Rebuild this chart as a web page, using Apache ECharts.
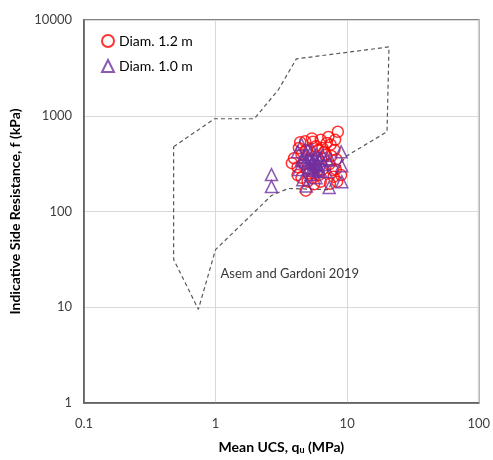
<!DOCTYPE html>
<html>
<head>
<meta charset="utf-8">
<script src="https://cdn.jsdelivr.net/npm/echarts@6/dist/echarts.min.js"></script>
<style>
  html, body { margin: 0; padding: 0; background: #fff; }
  #chart { width: 493px; height: 460px; }
</style>
</head>
<body>
<div id="chart"></div>
<script>
// Diam. 1.2 m  [UCS MPa, f kPa]
var diam12 = [
  [4.4, 530], [4.8, 540], [5.5, 536], [6.3, 560], [7.2, 600], [8.5, 680],
  [7.5, 500], [6.5, 460], [5.8, 480], [3.95, 360], [3.8, 320], [4.2, 290],
  [4.5, 395], [5.3, 350], [6.0, 360], [6.9, 390], [8.0, 440], [8.3, 350],
  [8.2, 275], [7.9, 230], [8.4, 205], [7.4, 195], [6.3, 205], [5.5, 225],
  [4.85, 165], [5.0, 205], [4.5, 225], [4.2, 240], [4.7, 310], [5.2, 275],
  [5.8, 285], [6.5, 275], [7.3, 310], [9.0, 240], [4.9, 440], [6.0, 440],
  [5.4, 580], [7.0, 520], [5.6, 192], [8.1, 560], [6.7, 420], [7.6, 380],
  [7.8, 270], [5.1, 250], [6.1, 240], [4.3, 460]
]

// Diam. 1.0 m
var diam10 = [
  [2.66, 243], [2.66, 182], [4.5, 500], [4.3, 275], [5.4, 440], [4.9, 395],
  [5.3, 350], [5.8, 395], [6.3, 360], [4.8, 330], [5.2, 290], [5.6, 310],
  [6.0, 275], [6.7, 310], [7.0, 355], [7.5, 345], [9.0, 420], [9.1, 300],
  [9.1, 205], [7.3, 178], [4.9, 185], [4.5, 345], [5.0, 440], [5.9, 320],
  [6.3, 262], [5.3, 243], [4.2, 420], [6.9, 262], [5.8, 225], [4.6, 215],
  [5.1, 370], [5.5, 330], [5.7, 360], [6.1, 340], [5.4, 280], [6.5, 385],
  [4.7, 370], [5.0, 320], [6.0, 300], [5.6, 270]
]

// Asem and Gardoni 2019 envelope (closed)
var envelope = [
  [0.48, 475], [0.98, 930], [1.97, 930], [3.0, 1866], [4.11, 3925],
  [20.8, 5236], [20.1, 681], [9.6, 370], [7.18, 169], [3.57, 174],
  [2.66, 147], [1.0, 40], [0.74, 9.5], [0.48, 31.6], [0.48, 475]
]

var envelopeLabel = [[1.09, 22.6]]

var myChart = echarts.init(document.getElementById('chart'))

var labelFont = 'Lato, "Open Sans", sans-serif'

var option = {
  animation: false,
  textStyle: { fontFamily: labelFont },
  grid: {
    left: 82, right: 14, top: 20, bottom: 55,
    show: true, borderColor: '#595959', borderWidth: 1.5
  },
  legend: {
    orient: 'vertical',
    left: 96, top: 29,
    itemWidth: 12, itemHeight: 12, itemGap: 11,
    textStyle: { fontSize: 14, color: '#000', fontFamily: labelFont },
    data: ['Diam. 1.2 m', 'Diam. 1.0 m']
  },
  xAxis: {
    type: 'log', logBase: 10, min: 0.1, max: 100,
    name: 'Mean UCS, q{sub|u} (MPa)',
    nameLocation: 'middle', nameGap: 37,
    nameTextStyle: {
      fontSize: 14, fontWeight: 'bold', color: '#000',
      rich: { sub: { fontSize: 9, fontWeight: 'bold', verticalAlign: 'bottom', padding: [6, 0, 0, 0] } }
    },
    axisLine: { lineStyle: { color: '#595959', width: 1.5 } },
    axisTick: { show: false },
    minorTick: { show: false },
    axisLabel: { fontSize: 13, color: '#404040', margin: 14, formatter: function (v) { return String(v) } },
    splitLine: { lineStyle: { color: '#d9d9d9', width: 1 } }
  },
  yAxis: {
    type: 'log', logBase: 10, min: 1, max: 10000,
    name: 'Indicative Side Resistance, f (kPa)',
    nameLocation: 'middle', nameGap: 62,
    nameTextStyle: { fontSize: 14, fontWeight: 'bold', color: '#000' },
    axisLine: { lineStyle: { color: '#595959', width: 1.5 } },
    axisTick: { show: false },
    axisLabel: { fontSize: 13, color: '#404040', margin: 12, formatter: function (v) { return String(v) } },
    splitLine: { lineStyle: { color: '#d9d9d9', width: 1 } }
  },
  series: [
    {
      name: 'envelope',
      type: 'line',
      data: envelope,
      symbol: 'none',
      silent: true,
      z: 1,
      lineStyle: { color: '#595959', width: 1.2, type: [4, 3] }
    },
    {
      name: 'label',
      type: 'scatter',
      data: envelopeLabel,
      symbolSize: 0,
      silent: true,
      label: {
        show: true, position: 'right', distance: 0,
        formatter: 'Asem and Gardoni 2019',
        fontSize: 13, color: '#000', fontFamily: labelFont
      }
    },
    {
      name: 'Diam. 1.2 m',
      type: 'scatter',
      data: diam12,
      symbol: 'circle',
      symbolSize: 11,
      z: 3,
      itemStyle: { color: 'rgba(255,255,255,0)', borderColor: '#ff0000', borderWidth: 1.5 }
    },
    {
      name: 'Diam. 1.0 m',
      type: 'scatter',
      data: diam10,
      symbol: 'triangle',
      symbolSize: 12,
      z: 4,
      itemStyle: { color: 'rgba(255,255,255,0)', borderColor: '#7030a0', borderWidth: 1.5 }
    }
  ]
}

myChart.setOption(option)
</script>
</body>
</html>
